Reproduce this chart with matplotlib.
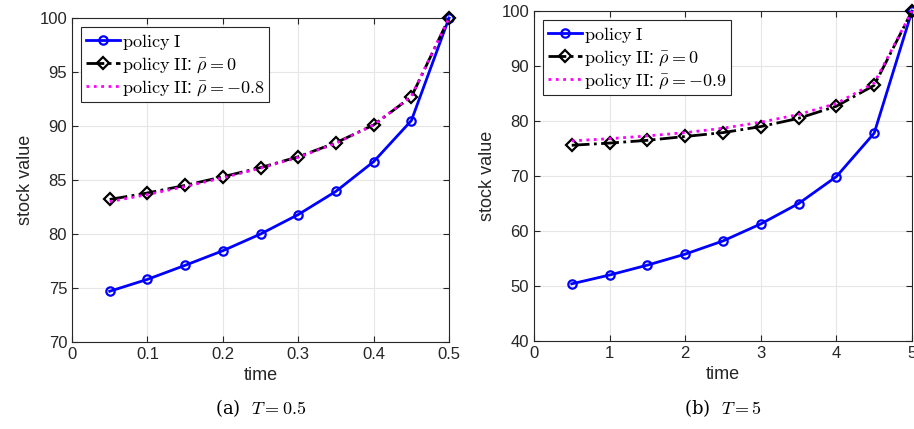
from matplotlib import pyplot as plt

plt.rcParams['font.family'] = ['Liberation Sans', 'DejaVu Sans']
plt.rcParams['mathtext.fontset'] = 'cm'

# Data, T = 0.5
t_a = [0.05, 0.1, 0.15, 0.2, 0.25, 0.3, 0.35, 0.4, 0.45, 0.5]
pol1_a = [74.7, 75.8, 77.1, 78.45, 80.0, 81.8, 83.95, 86.7, 90.5, 100]
pol2_a = [83.2, 83.8, 84.5, 85.3, 86.15, 87.15, 88.45, 90.1, 92.7, 100]
pol2n_a = [83.0, 83.65, 84.4, 85.2, 86.1, 87.1, 88.4, 90.1, 92.75, 100]

# Data, T = 5
t_b = [0.5, 1, 1.5, 2, 2.5, 3, 3.5, 4, 4.5, 5]
pol1_b = [50.4, 52.0, 53.8, 55.8, 58.2, 61.3, 65.0, 69.9, 77.8, 100]
pol2_b = [75.6, 76.0, 76.5, 77.2, 77.9, 79.0, 80.5, 82.7, 86.5, 100]
pol2n_b = [76.4, 76.8, 77.3, 77.9, 78.7, 79.8, 81.2, 83.2, 86.9, 100]

panels = [
  dict(pos=[0.0788, 0.2028, 0.4125, 0.7552], t=t_a, p1=pol1_a, p2=pol2_a, p3=pol2n_a,
       rho=r'-0.8', xlim=(0, 0.5), xt=[0, 0.1, 0.2, 0.3, 0.4, 0.5],
       ylim=(70, 100), yt=[70, 75, 80, 85, 90, 95, 100], cap=r'(a)  $T=0.5$'),
  dict(pos=[0.5842, 0.2051, 0.4136, 0.769], t=t_b, p1=pol1_b, p2=pol2_b, p3=pol2n_b,
       rho=r'-0.9', xlim=(0, 5), xt=[0, 1, 2, 3, 4, 5],
       ylim=(40, 100), yt=[40, 50, 60, 70, 80, 90, 100], cap=r'(b)  $T=5$'),
]

fig = plt.figure(figsize=(9.14, 4.29), dpi=100)
for p in panels:
  ax = fig.add_axes(p['pos'])
  ax.plot(p['t'], p['p1'], '-o', color='#0000ff', lw=2, ms=6, mfc='none', mew=1.6,
          label=r'$\mathrm{policy\ I}$', clip_on=False, zorder=3)
  ax.plot(p['t'], p['p2'], '-.D', color='black', lw=2, ms=6, mfc='none', mew=1.6,
          label=r'$\mathrm{policy\ II}$: $\bar{\rho}=0$', clip_on=False, zorder=4)
  ax.plot(p['t'], p['p3'], ':', color='#ff00ff', lw=2,
          label=r'$\mathrm{policy\ II}$: $\bar{\rho}=' + p['rho'] + '$', clip_on=False, zorder=5)
  ax.set_xlim(*p['xlim'])
  ax.set_ylim(*p['ylim'])
  ax.set_xticks(p['xt'])
  ax.set_xticklabels([f'{v:g}' for v in p['xt']])
  ax.set_yticks(p['yt'])
  ax.grid(True, color='#e6e6e6', lw=0.8)
  ax.set_axisbelow(True)
  ax.tick_params(direction='in', top=True, right=True, labelsize=12, length=4,
                 color='#262626', labelcolor='#262626')
  for s in ax.spines.values():
    s.set_color('#262626')
    s.set_linewidth(0.8)
  ax.set_xlabel('time', fontsize=13, color='#262626')
  ax.set_ylabel('stock value', fontsize=13, color='#262626')
  leg = ax.legend(loc='upper left', fontsize=13, fancybox=False, framealpha=1,
                  edgecolor='#262626', handlelength=1.9, handletextpad=0.1,
                  borderpad=0.25, labelspacing=0.2, borderaxespad=0.5)
  leg.get_frame().set_linewidth(0.8)
  x0, y0, w, h = p['pos']
  fig.text(x0 + w / 2, 0.049, p['cap'], ha='center', va='center', fontsize=13,
           family='DejaVu Serif')

fig.savefig('out.png', dpi=100)
